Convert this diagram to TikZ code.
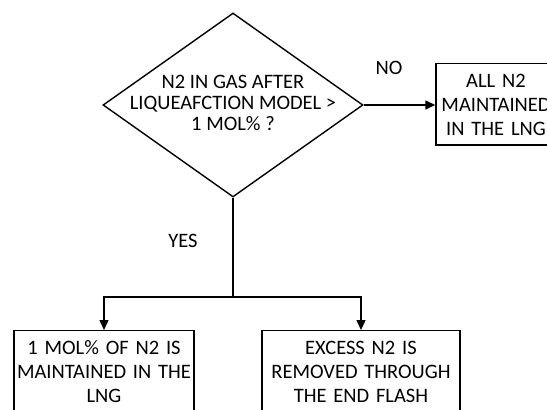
\documentclass[tikz,border=0pt]{standalone}
\usepackage{fontspec}
\setmainfont{Carlito}
\usetikzlibrary{shapes.geometric,arrows.meta}

\begin{document}
\begin{tikzpicture}[x=1pt,y=-1pt,
        every node/.style={font=\fontsize{20.5}{24}\selectfont},
        decision/.style={draw, diamond, line width=1.4pt, minimum width=260pt, minimum height=184pt, inner sep=0pt},
        outcome/.style={draw, line width=1.4pt, align=center, anchor=north, inner xsep=0pt, inner ysep=10pt},
        flow/.style={line width=1.4pt, -{Triangle[length=10pt,width=9pt]}}]
        \clip (0,0) rectangle (547,410);
        \node[decision] (check) at (233,105) {};
        \node[align=center, font=\fontsize{20.5}{21}\selectfont] (checktext) at (233,103) {N2 IN GAS AFTER\\LIQUEAFCTION MODEL >\\1 MOL\% ?};
        \node[outcome, text width=120pt] (allkept) at (496,63) {ALL N2\\MAINTAINED\\IN THE LNG};
        \node[outcome, text width=180pt] (onekept) at (104,330) {1 MOL\% OF N2 IS\\MAINTAINED IN THE\\LNG};
        \node[outcome, text width=198pt] (flash) at (361,330) {EXCESS N2 IS\\REMOVED THROUGH\\THE END FLASH};
        \node (no) at (389,68) {NO};
        \node (yes) at (183,241) {YES};
        \coordinate (split) at (233,297);
        \draw[flow] (check.east) -- (allkept.west |- check.east);
        \draw[line width=1.4pt] (check.south) -- (split);
        \draw[flow] (split) -| (onekept.north);
        \draw[flow] (split) -| (flash.north);
\end{tikzpicture}
\end{document}
